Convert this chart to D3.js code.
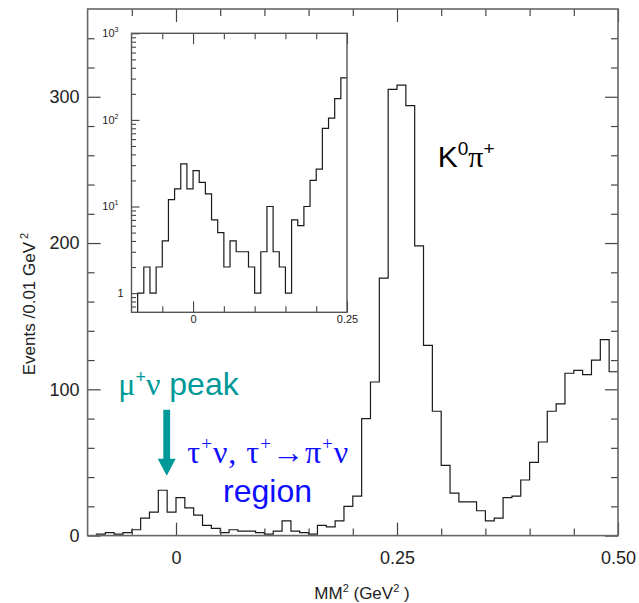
<!DOCTYPE html>
<html>
<head>
<meta charset="utf-8">
<script src="https://cdnjs.cloudflare.com/ajax/libs/d3/7.8.5/d3.min.js"></script>
<style>
  body { margin: 0; background: #fff; }
  text { font-family: "Liberation Sans", Arial, sans-serif; fill: #222; }
  .serif { font-family: "Liberation Serif", "Times New Roman", serif; }
</style>
</head>
<body>
<div id="vis"></div>
<script>
// bin edges (GeV^2), 0.01 wide
var binEdges = [-0.09, -0.08, -0.07, -0.06, -0.05, -0.04, -0.03, -0.02, -0.01, 0.00,
  0.01, 0.02, 0.03, 0.04, 0.05, 0.06, 0.07, 0.08, 0.09, 0.10,
  0.11, 0.12, 0.13, 0.14, 0.15, 0.16, 0.17, 0.18, 0.19, 0.20,
  0.21, 0.22, 0.23, 0.24, 0.25, 0.26, 0.27, 0.28, 0.29, 0.30,
  0.31, 0.32, 0.33, 0.34, 0.35, 0.36, 0.37, 0.38, 0.39, 0.40,
  0.41, 0.42, 0.43, 0.44, 0.45, 0.46, 0.47, 0.48, 0.49, 0.50];

// events per bin
var counts = [1, 2, 1, 2, 4, 12, 16, 31, 16, 26,
  19, 14, 7, 5, 2, 4, 3, 3, 2, 1,
  3, 10, 3, 2, 1, 7, 6, 10, 20, 27,
  80, 105, 176, 305, 308, 294, 198, 130, 85, 48,
  29, 23, 23, 17, 10, 12, 26, 27, 38, 50,
  64, 85, 90, 111, 113, 110, 120, 134, 112];

var yMajor = [0, 100, 200, 300];
var yMinor = [20, 40, 60, 80, 120, 140, 160, 180, 220, 240, 260, 280, 320, 340];
var xMajor = [0, 0.25, 0.5];
var xMajorLabels = ["0", "0.25", "0.50"];
var xMinor = [-0.05, 0.05, 0.1, 0.15, 0.2, 0.3, 0.35, 0.4, 0.45];

var insetXMajor = [0, 0.25];
var insetXLabels = ["0", "0.25"];
var insetXMinor = [-0.05, 0.05, 0.1, 0.15, 0.2];
var insetYMajor = [1, 10, 100, 1000];
var insetYExp = ["", "1", "2", "3"];
var insetYMinor = [0.7, 0.8, 0.9, 2, 3, 4, 5, 6, 7, 8, 9, 20, 30, 40, 50, 60, 70, 80, 90,
  200, 300, 400, 500, 600, 700, 800, 900];

var width = 639, height = 603;
var svg = d3.select("#vis").append("svg")
  .attr("width", width).attr("height", height);

// main frame
var x = d3.scaleLinear().domain([-0.1, 0.5]).range([87.6, 618]);
var y = d3.scaleLinear().domain([0, 360]).range([535.6, 9]);

var points = [{x: binEdges[0], y: 0}];
for (var i = 0; i < counts.length; i++) {
  points.push({x: binEdges[i], y: counts[i]});
}
points.push({x: binEdges[binEdges.length - 1], y: counts[counts.length - 1]});

var mainLine = d3.line()
  .x(function(d) { return x(d.x); })
  .y(function(d) { return y(d.y); })
  .curve(d3.curveStepAfter);

svg.append("path")
  .attr("d", mainLine(points))
  .attr("fill", "none")
  .attr("stroke", "#1a1a1a")
  .attr("stroke-width", 1.2);

function noDomain(g) { g.select(".domain").remove(); }
function tickStyle(g) {
  g.selectAll("line").attr("stroke", "#444").attr("stroke-width", 1.2);
  g.selectAll("text").attr("fill", "#222").attr("font-size", 18)
    .attr("font-family", "Liberation Sans, Arial, sans-serif");
}

// bottom
svg.append("g").attr("transform", "translate(0," + y(0) + ")")
  .call(d3.axisBottom(x).tickValues(xMajor).tickSize(-13).tickPadding(16)
    .tickFormat(function(d, i) { return xMajorLabels[i]; }))
  .call(noDomain).call(tickStyle);
svg.append("g").attr("transform", "translate(0," + y(0) + ")")
  .call(d3.axisBottom(x).tickValues(xMinor).tickSize(-7).tickFormat(""))
  .call(noDomain).call(tickStyle);
// top
svg.append("g").attr("transform", "translate(0," + y(360) + ")")
  .call(d3.axisTop(x).tickValues(xMajor).tickSize(-13).tickFormat(""))
  .call(noDomain).call(tickStyle);
svg.append("g").attr("transform", "translate(0," + y(360) + ")")
  .call(d3.axisTop(x).tickValues(xMinor).tickSize(-7).tickFormat(""))
  .call(noDomain).call(tickStyle);
// left
svg.append("g").attr("transform", "translate(" + x(-0.1) + ",0)")
  .call(d3.axisLeft(y).tickValues(yMajor).tickSize(-13).tickPadding(8))
  .call(noDomain).call(tickStyle);
svg.append("g").attr("transform", "translate(" + x(-0.1) + ",0)")
  .call(d3.axisLeft(y).tickValues(yMinor).tickSize(-7).tickFormat(""))
  .call(noDomain).call(tickStyle);
// right
svg.append("g").attr("transform", "translate(" + x(0.5) + ",0)")
  .call(d3.axisRight(y).tickValues(yMajor).tickSize(-13).tickFormat(""))
  .call(noDomain).call(tickStyle);
svg.append("g").attr("transform", "translate(" + x(0.5) + ",0)")
  .call(d3.axisRight(y).tickValues(yMinor).tickSize(-7).tickFormat(""))
  .call(noDomain).call(tickStyle);

svg.append("rect")
  .attr("x", x(-0.1)).attr("y", y(360))
  .attr("width", x(0.5) - x(-0.1)).attr("height", y(0) - y(360))
  .attr("fill", "none").attr("stroke", "#666").attr("stroke-width", 1.6);

// axis titles
var xt = svg.append("text")
  .attr("x", 362).attr("y", 599)
  .attr("text-anchor", "middle").attr("font-size", 17);
xt.append("tspan").text("MM");
xt.append("tspan").attr("font-size", 11).attr("dy", -7).text("2");
xt.append("tspan").attr("dy", 7).text(" (GeV");
xt.append("tspan").attr("font-size", 11).attr("dy", -7).text("2");
xt.append("tspan").attr("dy", 7).text(" )");

var yt = svg.append("text")
  .attr("transform", "translate(35,304) rotate(-90)")
  .attr("text-anchor", "middle").attr("font-size", 17);
yt.append("tspan").text("Events /0.01 GeV");
yt.append("tspan").attr("font-size", 11).attr("dy", -7).text(" 2");

// annotations
var k = svg.append("text")
  .attr("x", x(0.296)).attr("y", y(252))
  .attr("font-size", 30).style("fill", "#000");
k.append("tspan").text("K");
k.append("tspan").attr("font-size", 19).attr("dy", -12).text("0");
k.append("tspan").attr("class", "serif").attr("dy", 12).text("\u03c0");
k.append("tspan").attr("font-size", 19).attr("dy", -12).text("+");

var teal = "#009999";
var mu = svg.append("text")
  .attr("x", x(-0.0653)).attr("y", y(95.8))
  .attr("font-size", 32).style("fill", teal);
mu.append("tspan").attr("class", "serif").text("\u03bc");
mu.append("tspan").attr("font-size", 18).attr("dy", -12).text("+");
mu.append("tspan").attr("class", "serif").attr("dy", 12).text("\u03bd");
mu.append("tspan").text(" peak");

// arrow
var ax = x(-0.0105), aTop = y(86), aTip = y(41), headH = 17, headW = 9;
svg.append("rect")
  .attr("x", ax - 3.4).attr("y", aTop)
  .attr("width", 6.8).attr("height", aTip - headH - aTop + 1)
  .attr("fill", teal);
svg.append("path")
  .attr("d", "M" + (ax - headW) + "," + (aTip - headH) + "L" + (ax + headW) + "," + (aTip - headH) + "L" + ax + "," + aTip + "Z")
  .attr("fill", teal);

var blue = "#0d0dff";
var tau = svg.append("text")
  .attr("class", "serif")
  .attr("x", x(0.1044)).attr("y", y(49.4))
  .attr("text-anchor", "middle")
  .attr("letter-spacing", 1)
  .attr("font-size", 32).style("fill", blue);
tau.append("tspan").text("\u03c4");
tau.append("tspan").attr("font-size", 19).attr("dy", -13).text("+");
tau.append("tspan").attr("dy", 13).text("\u03bd, \u03c4");
tau.append("tspan").attr("font-size", 19).attr("dy", -13).text("+");
tau.append("tspan").attr("dy", 13).text("\u2192\u03c0");
tau.append("tspan").attr("font-size", 19).attr("dy", -13).text("+");
tau.append("tspan").attr("dy", 13).text("\u03bd");

svg.append("text")
  .attr("x", x(0.1035)).attr("y", y(23.2))
  .attr("text-anchor", "middle")
  .attr("font-size", 32).style("fill", blue)
  .text("region");

// inset, log scale
var ix = d3.scaleLinear().domain([-0.1, 0.25]).range([131.5, 347]);
var iy = d3.scaleLog().domain([0.6, 1000]).range([312.3, 33.3]);

var inset = svg.append("g");
inset.append("rect")
  .attr("x", ix(-0.1)).attr("y", iy(1000))
  .attr("width", ix(0.25) - ix(-0.1)).attr("height", iy(0.6) - iy(1000))
  .attr("fill", "#fff");

var insetPts = [{x: binEdges[0], y: 0.6}];
for (var j = 0; j < counts.length && binEdges[j] < 0.25 - 1e-9; j++) {
  insetPts.push({x: binEdges[j], y: counts[j]});
}
insetPts.push({x: 0.25, y: insetPts[insetPts.length - 1].y});

var insetLine = d3.line()
  .x(function(d) { return ix(d.x); })
  .y(function(d) { return iy(d.y); })
  .curve(d3.curveStepAfter);

inset.append("path")
  .attr("d", insetLine(insetPts))
  .attr("fill", "none")
  .attr("stroke", "#1a1a1a")
  .attr("stroke-width", 1.2);

function insetTicks(g) {
  g.selectAll("line").attr("stroke", "#444").attr("stroke-width", 1.1);
  g.selectAll("text").attr("fill", "#222").attr("font-size", 11)
    .attr("font-family", "Liberation Sans, Arial, sans-serif");
}
inset.append("g").attr("transform", "translate(0," + iy(0.6) + ")")
  .call(d3.axisBottom(ix).tickValues(insetXMajor).tickSize(-11).tickPadding(3)
    .tickFormat(function(d, i) { return insetXLabels[i]; }))
  .call(noDomain).call(insetTicks);
inset.append("g").attr("transform", "translate(0," + iy(0.6) + ")")
  .call(d3.axisBottom(ix).tickValues(insetXMinor).tickSize(-6).tickFormat(""))
  .call(noDomain).call(insetTicks);
inset.append("g").attr("transform", "translate(0," + iy(1000) + ")")
  .call(d3.axisTop(ix).tickValues(insetXMajor).tickSize(-11).tickFormat(""))
  .call(noDomain).call(insetTicks);
inset.append("g").attr("transform", "translate(0," + iy(1000) + ")")
  .call(d3.axisTop(ix).tickValues(insetXMinor).tickSize(-6).tickFormat(""))
  .call(noDomain).call(insetTicks);
inset.append("g").attr("transform", "translate(" + ix(-0.1) + ",0)")
  .call(d3.axisLeft(iy).tickValues(insetYMajor).tickSize(-8).tickFormat(""))
  .call(noDomain).call(insetTicks);
inset.append("g").attr("transform", "translate(" + ix(-0.1) + ",0)")
  .call(d3.axisLeft(iy).tickValues(insetYMinor).tickSize(-4.5).tickFormat(""))
  .call(noDomain).call(insetTicks);

var ylab = inset.selectAll(".ylab")
  .data(insetYMajor)
  .enter()
  .append("text")
  .attr("class", "ylab")
  .attr("text-anchor", "end")
  .attr("font-size", 11)
  .attr("x", function(d, i) { return i === 0 ? ix(-0.1) - 8 : ix(-0.1) - 13; })
  .attr("y", function(d) { return iy(d) + 4; });
ylab.append("tspan").text(function(d, i) { return i === 0 ? "1" : "10"; });
ylab.append("tspan")
  .attr("font-size", 7).attr("dy", -5)
  .text(function(d, i) { return insetYExp[i]; });

inset.append("rect")
  .attr("x", ix(-0.1)).attr("y", iy(1000))
  .attr("width", ix(0.25) - ix(-0.1)).attr("height", iy(0.6) - iy(1000))
  .attr("fill", "none").attr("stroke", "#555").attr("stroke-width", 1.4);
</script>
</body>
</html>
